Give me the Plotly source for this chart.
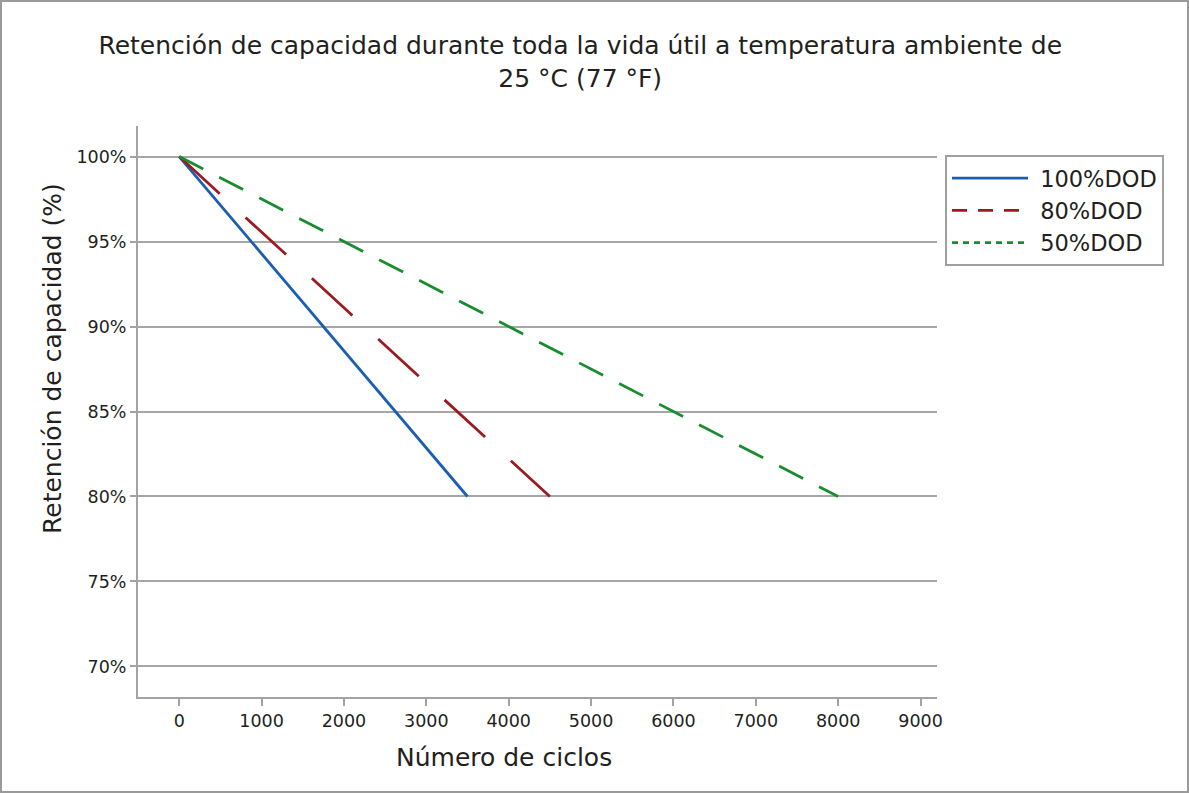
import plotly.graph_objects as go

series_names = ["100%DOD", "80%DOD", "50%DOD"]
cycles_100 = [0, 3500]
retention_100 = [100, 80]
cycles_80 = [0, 4500]
retention_80 = [100, 80]
cycles_50 = [0, 8000]
retention_50 = [100, 80]

x_ticks = [0, 1000, 2000, 3000, 4000, 5000, 6000, 7000, 8000, 9000]
y_ticks = [70, 75, 80, 85, 90, 95, 100]
y_ticklabels = ["70%", "75%", "80%", "85%", "90%", "95%", "100%"]

colors = ["#1c5eaf", "#9a1c20", "#198c2f"]
font_fam = "DejaVu Sans, sans-serif"
txt = "#231f20"

fig = go.Figure()
data = [(cycles_100, retention_100), (cycles_80, retention_80), (cycles_50, retention_50)]
plot_dash = ["solid", "55px,35px", "27px,18px"]
legend_dash = ["solid", "15px,11px", "6px,5px"]
for i, (xs, ys) in enumerate(data):
    fig.add_trace(go.Scatter(x=xs, y=ys, mode="lines", showlegend=False,
                             line=dict(color=colors[i], width=2.8, dash=plot_dash[i])))
for i in range(3):
    fig.add_trace(go.Scatter(x=[None], y=[None], mode="lines", name=" " + series_names[i],
                             line=dict(color=colors[i], width=2.8, dash=legend_dash[i])))

W, H = 1189, 793
L, R, T, B = 138, 252, 126, 96
pw, ph = W - L - R, H - T - B

def px2paper_x(px):
    return (px - L) / pw

def px2paper_y(py):
    return (H - B - py) / ph

fig.update_layout(
    width=W, height=H,
    margin=dict(l=L, r=R, t=T, b=B),
    paper_bgcolor="white", plot_bgcolor="white",
    font=dict(family=font_fam, color=txt),
    title=dict(text="Retención de capacidad durante toda la vida útil a temperatura ambiente de<br>25 °C (77 °F)",
               x=0.488, xanchor="center", y=1 - 54 / H, yanchor="middle",
               font=dict(size=25, color=txt, family=font_fam)),
    xaxis=dict(range=[-500, 9200], tickvals=x_ticks, showgrid=False, zeroline=False,
               showline=True, linecolor="#a3a3a3", linewidth=2,
               ticks="outside", ticklen=7, tickwidth=2, tickcolor="#a3a3a3",
               tickfont=dict(size=17.5, color=txt), fixedrange=True),
    yaxis=dict(range=[68.2, 101.8], tickvals=y_ticks, ticktext=y_ticklabels,
               showgrid=True, gridcolor="#a6a6a6", gridwidth=2, zeroline=False,
               showline=True, linecolor="#a3a3a3", linewidth=2,
               ticks="outside", ticklen=6, tickwidth=2, tickcolor="#a3a3a3",
               tickfont=dict(size=17.5, color=txt), fixedrange=True),
    legend=dict(x=px2paper_x(945), y=px2paper_y(155), xanchor="left", yanchor="top",
                bgcolor="white", bordercolor="#a0a0a0", borderwidth=2,
                font=dict(size=22.5, color=txt), itemwidth=76, tracegroupgap=0),
    annotations=[
        dict(text="Número de ciclos", xref="paper", yref="paper",
             x=px2paper_x(504), y=px2paper_y(757), xanchor="center", yanchor="middle",
             showarrow=False, font=dict(size=25, color=txt)),
        dict(text="Retención de capacidad (%)", xref="paper", yref="paper",
             x=px2paper_x(52), y=px2paper_y(359), xanchor="center", yanchor="middle",
             textangle=-90, showarrow=False, font=dict(size=25, color=txt)),
    ],
    shapes=[
        dict(type="rect", xref="paper", yref="paper",
             x0=px2paper_x(1), x1=px2paper_x(1188), y0=px2paper_y(792), y1=px2paper_y(1),
             line=dict(color="#9a9a9a", width=2), fillcolor="rgba(0,0,0,0)", layer="above"),
    ],
)

fig.write_html("out.html", config={"displayModeBar": False},
               post_script="document.body.style.margin='0';document.body.style.padding='0';")
